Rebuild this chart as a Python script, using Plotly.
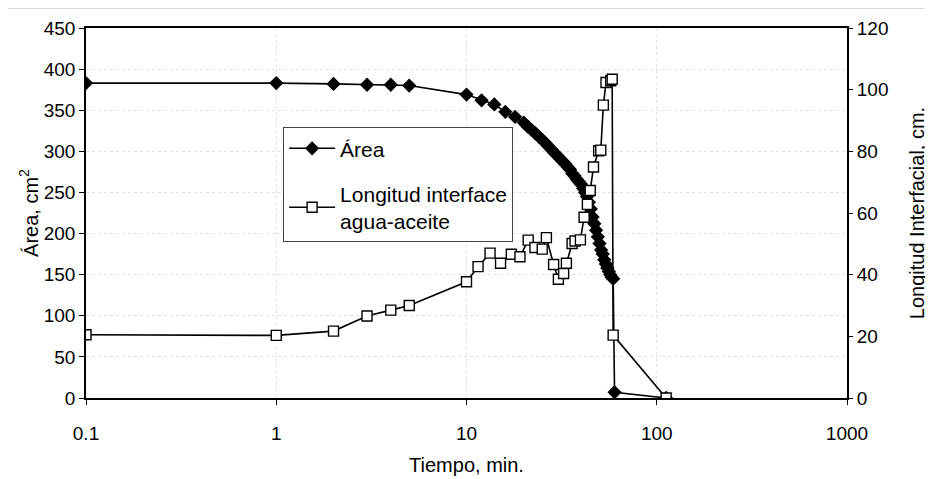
import plotly.graph_objects as go

# Área (cm2) vs tiempo (min)
area_t = [0.1, 1, 2, 3, 4, 5, 10, 12, 14, 16, 18, 20, 21, 22, 23, 24, 25, 26, 27, 28, 29,
          30, 31, 32, 33, 34, 35, 36, 37, 38, 39, 40, 41, 42, 43, 44, 45, 46, 47, 48, 49,
          50, 51, 52, 53, 54, 55, 56, 57, 58, 59, 60, 112]
area_v = [383, 383, 382, 381, 381, 380, 369, 362, 357, 348, 342, 335, 330, 326, 322, 318, 314, 310, 306, 302, 298,
          295, 291, 288, 285, 281, 278, 273, 270, 266, 263, 260, 255, 250, 245, 238, 230, 220, 212, 204, 196,
          188, 180, 175, 168, 163, 158, 154, 150, 147, 145, 7, 0]

# Longitud interface agua-aceite (cm) vs tiempo (min)
long_t = [0.1, 1, 2, 3, 4, 5, 10, 11.5, 13.3, 15.1, 17.2, 19.1, 21.1, 22.9, 25, 26.3, 28.7,
          30.4, 32.4, 33.5, 35.9, 37.2, 39.7, 41.5, 43.2, 44.7, 46.5, 49.5, 50.8, 52.4, 54.1,
          57.3, 58.3, 59, 112]
long_v = [20.5, 20.3, 21.7, 26.6, 28.5, 30, 37.7, 42.6, 47.0, 43.7, 46.6, 45.8, 51.2, 48.8, 48.3, 52.0, 43.3,
          38.5, 40.4, 43.7, 50.1, 50.9, 51.3, 58.6, 62.8, 67.3, 74.9, 80.2, 80.4, 95.0, 102.3,
          102.9, 103.4, 20.4, 0]

x_ticks = [0.1, 1, 10, 100, 1000]
x_ticktext = ["0.1", "1", "10", "100", "1000"]
y1_ticks = [0, 50, 100, 150, 200, 250, 300, 350, 400, 450]
y2_ticks = [0, 20, 40, 60, 80, 100, 120]

FONT = "Arial, Liberation Sans, sans-serif"

fig = go.Figure()
fig.add_trace(go.Scatter(
    x=area_t, y=area_v, name="Área", mode="lines+markers", legendgroup="area",
    line=dict(color="black", width=1.6),
    marker=dict(symbol="diamond", size=11, color="black"),
))
fig.add_trace(go.Scatter(
    x=long_t, y=long_v, name="Longitud interface<br>agua-aceite", mode="lines+markers",
    legendgroup="longitud", yaxis="y2",
    line=dict(color="black", width=1.6),
    marker=dict(symbol="square", size=10, color="white", line=dict(color="black", width=1.4)),
))

# page body has an 8px margin: figure sized/offset to land the plot area where the reference has it
fig.update_layout(
    width=925, height=471,
    margin=dict(l=78, r=86, t=20, b=81),
    paper_bgcolor="white", plot_bgcolor="white",
    font=dict(family=FONT, size=19, color="black"),
    showlegend=True,
    legend=dict(
        x=0.259, y=0.732, xanchor="left", yanchor="top",
        bgcolor="white", bordercolor="#444", borderwidth=1,
        font=dict(size=21, family=FONT),
        tracegroupgap=15, itemwidth=46,
    ),
    xaxis=dict(
        type="log", range=[-1, 3], tickvals=x_ticks, ticktext=x_ticktext,
        showline=True, linecolor="black", linewidth=1.5, mirror=True,
        ticks="outside", ticklen=5, tickcolor="black", ticklabelstandoff=12,
        showgrid=True, gridcolor="#e2e2e2", griddash="dot", gridwidth=1,
        zeroline=False, automargin=False,
        title=dict(text="Tiempo, min.", font=dict(size=20), standoff=15),
        tickfont=dict(size=19),
    ),
    yaxis=dict(
        range=[0, 450], tickvals=y1_ticks,
        showline=True, linecolor="black", linewidth=1.5, mirror=True,
        ticks="outside", ticklen=5, tickcolor="black",
        showgrid=True, gridcolor="#e2e2e2", griddash="dot", gridwidth=1,
        zeroline=False, automargin=False,
        title=dict(text="Área, cm<sup>2</sup>", font=dict(size=20), standoff=0),
        tickfont=dict(size=19),
    ),
    yaxis2=dict(
        range=[0, 120], tickvals=y2_ticks, overlaying="y", side="right",
        showline=False, ticks="outside", ticklen=5, tickcolor="black",
        showgrid=False, zeroline=False, automargin=False,
        title=dict(text="Longitud Interfacial, cm.", font=dict(size=20), standoff=22),
        tickfont=dict(size=19),
    ),
    shapes=[dict(type="rect", xref="paper", yref="paper",
                 x0=-0.1038, x1=1.125, y0=-0.25, y1=1.054,
                 line=dict(color="#bbbbbb", width=1))],
)

fig.write_html("out.html")
